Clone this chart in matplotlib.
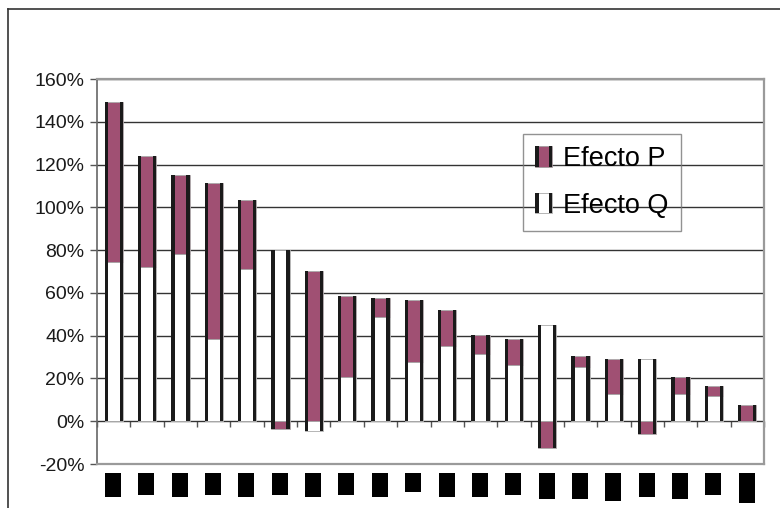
import numpy as np
import matplotlib.pyplot as plt
import matplotlib.transforms as mtransforms
from matplotlib.lines import Line2D
from matplotlib.patches import Rectangle
from matplotlib.legend_handler import HandlerBase

# Efecto cantidad (Q) y efecto precio (P) por categoria, en %
efecto_q = [74.5, 72.0, 78.3, 38.6, 71.1, 80.0, -4.5, 20.7, 48.5, 27.9,
            35.1, 31.6, 26.1, 45.0, 25.2, 12.6, 28.9, 12.6, 11.8, 0.0]
efecto_p = [74.7, 52.0, 36.8, 72.8, 32.4, -3.5, 70.3, 37.8, 9.2, 28.9,
            17.0, 8.9, 12.5, -12.4, 5.5, 16.3, -6.2, 8.3, 4.5, 7.5]
y_ticks = [-20, 0, 20, 40, 60, 80, 100, 120, 140, 160]

COLOR_P = '#A05073'
COLOR_Q = '#FFFFFF'
ANCHO = 0.55
BORDE = 0.1
# nombres de categoria tachados: alto de cada recuadro negro en px
ALTO_TACHADO = [24, 22, 24, 22, 24, 22, 24, 22, 24, 19,
                24, 24, 22, 26, 26, 28, 24, 26, 22, 30]


class HandlerBarra(HandlerBase):
    """Cuadro de leyenda con bordes laterales negros, como las barras"""
    def __init__(self, color):
        super().__init__()
        self.color = color

    def create_artists(self, legend, orig_handle, xdescent, ydescent,
                       width, height, fontsize, trans):
        x0 = -xdescent
        y0 = -ydescent - height * 0.05
        w = width
        h = height * 1.1
        s = w * 0.2
        fondo = Rectangle((x0, y0), w, h, facecolor=self.color,
                          edgecolor='#999999', lw=0.5, transform=trans)
        izq = Rectangle((x0, y0), s, h, facecolor='#1a1a1a', lw=0, transform=trans)
        der = Rectangle((x0 + w - s, y0), s, h, facecolor='#1a1a1a', lw=0, transform=trans)
        return [fondo, izq, der]


q = np.array(efecto_q)
p = np.array(efecto_p)
x = np.arange(len(q))

# apilado estilo Excel: positivos sobre positivos, negativos bajo negativos
base_p = np.where(p >= 0, np.maximum(q, 0), np.minimum(q, 0))
minimo = np.minimum.reduce([np.zeros_like(q), q, base_p + p])
maximo = np.maximum.reduce([np.zeros_like(q), q, base_p + p])

plt.rcParams['font.family'] = ['Liberation Sans', 'DejaVu Sans']

fig = plt.figure(figsize=(7.8, 5.08), dpi=100)
alto_ax = 385
ax = fig.add_axes([97 / 780, 1 - 464 / 508, 667 / 780, alto_ax / 508])

ax.bar(x, q, width=ANCHO, color=COLOR_Q, edgecolor='#aaaaaa', lw=0.6, zorder=3)
ax.bar(x, p, width=ANCHO, bottom=base_p, color=COLOR_P,
       edgecolor='#aaaaaa', lw=0.6, zorder=3)
# bordes laterales negros de cada barra
ax.bar(x - ANCHO / 2, maximo - minimo, width=BORDE, bottom=minimo,
       align='edge', color='#1a1a1a', lw=0, zorder=4)
ax.bar(x + ANCHO / 2 - BORDE, maximo - minimo, width=BORDE, bottom=minimo,
       align='edge', color='#1a1a1a', lw=0, zorder=4)

ax.set_xlim(-0.5, len(q) - 0.5)
ax.set_ylim(-20, 160)
ax.set_yticks(y_ticks)
ax.set_yticklabels([f'{v}%' for v in y_ticks])
ax.yaxis.grid(True, color='#333333', lw=1.0)
ax.set_axisbelow(True)
ax.tick_params(axis='y', labelsize=14, length=5, width=1,
               color='#555555', pad=4, labelcolor='#1a1a1a')

ax.set_xticks(x)
ax.set_xticklabels([''] * len(x))
ax.tick_params(axis='x', length=0)

# recuadros negros en lugar de los nombres de categoria
trans = mtransforms.blended_transform_factory(ax.transData, ax.transAxes)
for xi, alto in zip(x, ALTO_TACHADO):
    ax.add_patch(Rectangle((xi - 0.26, -9 / alto_ax - alto / alto_ax), 0.48,
                           alto / alto_ax, transform=trans, facecolor='black',
                           lw=0, clip_on=False))

for lado in ['top', 'right', 'bottom']:
    ax.spines[lado].set_color('#9a9a9a')
    ax.spines[lado].set_linewidth(1.6)
ax.spines['left'].set_color('#666666')
ax.spines['left'].set_linewidth(1.2)

# marcas de categoria sobre la linea de 0%
eje_cero = ax.secondary_xaxis(20 / 180)
eje_cero.set_xticks(np.arange(len(q) + 1) - 0.5)
eje_cero.set_xticklabels([])
eje_cero.tick_params(length=4, width=1, color='#555555')
eje_cero.spines['bottom'].set_visible(False)

handles = [Rectangle((0, 0), 1, 1), Rectangle((0, 0), 1, 1)]
leg = ax.legend(handles, ['Efecto P', 'Efecto Q'],
                handler_map={handles[0]: HandlerBarra(COLOR_P),
                             handles[1]: HandlerBarra(COLOR_Q)},
                loc='upper left', bbox_to_anchor=(426 / 667, (464 - 134) / alto_ax),
                fontsize=19.5, frameon=True, fancybox=False,
                handlelength=0.63, handletextpad=0.4, labelspacing=0.75,
                borderpad=0.45, borderaxespad=0)
leg.get_frame().set_facecolor('none')
leg.get_frame().set_edgecolor('#777777')
leg.get_frame().set_linewidth(1.0)

# marco exterior del grafico
fig.add_artist(Line2D([8 / 780, 8 / 780], [0, 1 - 9 / 508],
                      color='#333333', lw=1.2, transform=fig.transFigure))
fig.add_artist(Line2D([8 / 780, 1], [1 - 9 / 508, 1 - 9 / 508],
                      color='#333333', lw=1.2, transform=fig.transFigure))

fig.savefig('out.png', dpi=100)
